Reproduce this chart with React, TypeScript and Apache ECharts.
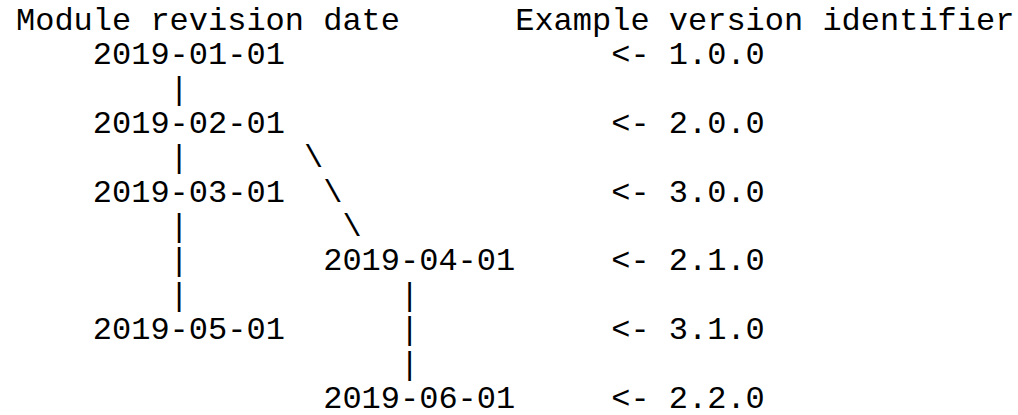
import React, { useEffect, useRef } from "react";
import * as echarts from "echarts";

// Header labels of the two columns
const headerLabels = ["Module revision date", "Example version identifier"];

// Revisions in order of appearance, and their example version identifiers
const revisionDates = [
  "2019-01-01",
  "2019-02-01",
  "2019-03-01",
  "2019-04-01",
  "2019-05-01",
  "2019-06-01",
];
const versionIds = ["1.0.0", "2.0.0", "3.0.0", "2.1.0", "3.1.0", "2.2.0"];

// Revision tree drawn as text art; "@" stands for the next revision date
const treeArt = [
  "    @",
  "        |",
  "    @",
  "        |      \\",
  "    @  \\",
  "        |        \\",
  "        |       @",
  "        |           |",
  "    @      |",
  "                    |",
  "                @",
];

const FONT = "'Liberation Mono', 'DejaVu Sans Mono', monospace";
const FONT_SIZE = 32;
const CHAR_W = 19.2;
const X0 = 16;
const CENTER0 = 21.5;
const PITCH = 34.35;
const VERSION_COL = 31;
const HEADER_COLS = [0, 26];

function buildLines(): string[] {
  const lines: string[] = [];
  lines.push(
    headerLabels[0].padEnd(HEADER_COLS[1], " ") + headerLabels[1]
  );
  let k = 0;
  for (const art of treeArt) {
    if (art.includes("@")) {
      const line = art.replace("@", revisionDates[k]);
      lines.push(line.padEnd(VERSION_COL, " ") + "<- " + versionIds[k]);
      k++;
    } else {
      lines.push(art);
    }
  }
  return lines;
}

function buildGraphics() {
  const lines = buildLines();
  const elements: any[] = [];
  lines.forEach((line, row) => {
    const re = /\S+(?: \S+)*/g;
    let m: RegExpExecArray | null;
    while ((m = re.exec(line)) !== null) {
      // split each run on single spaces to keep exact column alignment
      let col = m.index;
      for (const token of m[0].split(" ")) {
        if (token.length) {
          elements.push({
            type: "text",
            x: X0 + col * CHAR_W,
            y: CENTER0 + PITCH * row,
            silent: true,
            style: {
              text: token,
              font: `${FONT_SIZE}px ${FONT}`,
              lineHeight: 28,
              fill: "#000000",
              align: "left",
              verticalAlign: "middle",
            },
          });
        }
        col += token.length + 1;
      }
    }
  });
  return elements;
}

export default function App() {
  const ref = useRef<HTMLDivElement>(null);
  useEffect(() => {
    if (!ref.current) return;
    const chart = echarts.init(ref.current, null, { renderer: "svg" });
    chart.setOption({
      animation: false,
      backgroundColor: "#ffffff",
      graphic: { elements: buildGraphics() },
    });
    return () => chart.dispose();
  }, []);
  return (
    <div
      ref={ref}
      style={{
        position: "fixed",
        left: 0,
        top: 0,
        width: 1018,
        height: 415,
        background: "#ffffff",
      }}
    />
  );
}
